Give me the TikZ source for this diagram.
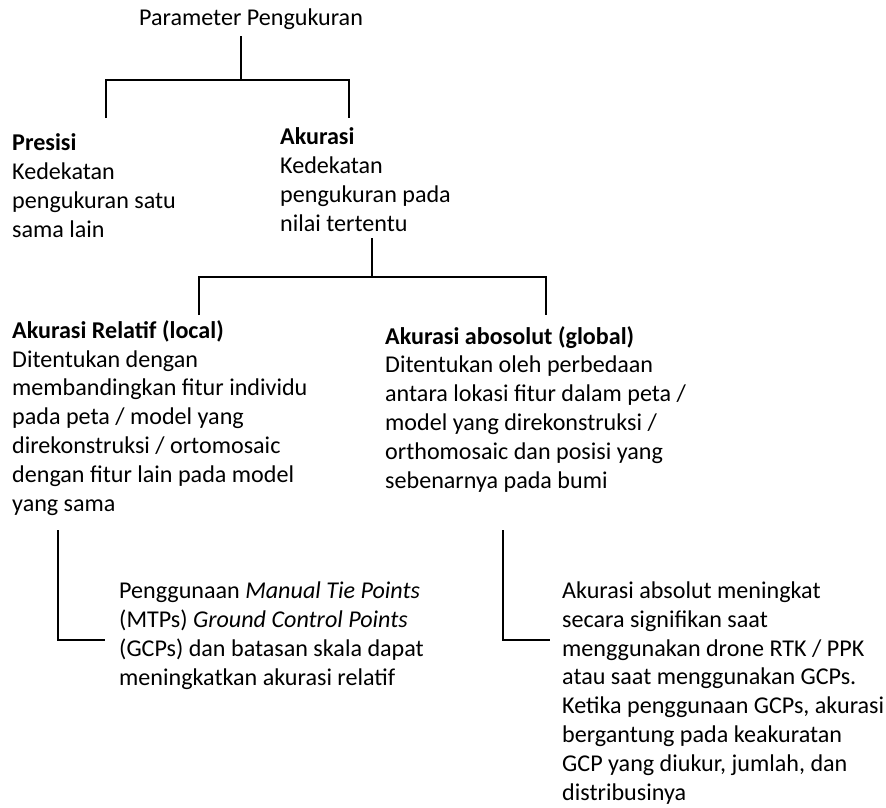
\documentclass[tikz,border=0pt]{standalone}
\usepackage{fontspec}
\setmainfont{Carlito}
\usetikzlibrary{positioning}

\begin{document}
\begin{tikzpicture}[
    x=1pt, y=-1pt,
    desc/.style={
        font=\fontsize{24.1}{28.8}\selectfont, align=left, inner sep=0pt, anchor=base west
    },
    branch/.style={
        draw=black, line width=2pt
    }
]
\useasboundingbox (0,0) rectangle (886,807);

% Level 0: root (nodes sit on the baseline of their last line)
\node[desc, anchor=base] (title) at (251,25) {Parameter Pengukuran};

% Level 1: Presisi / Akurasi
\node[desc] (presisi) at (12,237) {%
    \textbf{Presisi}\\
    Kedekatan\\
    pengukuran satu\\
    sama lain};

\node[desc] (akurasi) at (280,231) {%
    \textbf{Akurasi}\\
    Kedekatan\\
    pengukuran pada\\
    nilai tertentu};

% Level 2: relatif / absolut
\node[desc] (relatif) at (12,511) {%
    \textbf{Akurasi Relatif (local)}\\
    Ditentukan dengan\\
    membandingkan fitur individu\\
    pada peta / model yang\\
    direkonstruksi / ortomosaic\\
    dengan fitur lain pada model\\
    yang sama};

\node[desc] (absolut) at (385,488) {%
    \textbf{Akurasi abosolut (global)}\\
    Ditentukan oleh perbedaan\\
    antara lokasi fitur dalam peta /\\
    model yang direkonstruksi /\\
    orthomosaic dan posisi yang\\
    sebenarnya pada bumi};

% Level 3: notes
\node[desc] (mtp) at (119,685) {%
    Penggunaan \textit{Manual Tie Points}\\
    (MTPs) \textit{Ground Control Points}\\
    (GCPs) dan batasan skala dapat\\
    meningkatkan akurasi relatif};

\node[desc] (rtk) at (562,800) {%
    Akurasi absolut meningkat\\
    secara signifikan saat\\
    menggunakan drone RTK / PPK\\
    atau saat menggunakan GCPs.\\
    Ketika penggunaan GCPs, akurasi\\
    bergantung pada keakuratan\\
    GCP yang diukur, jumlah, dan\\
    distribusinya};

% Branch points
\coordinate (root) at (241,80);
\coordinate (presisi-in) at (106,118);
\coordinate (akurasi-in) at (349,118);
\coordinate (akurasi-out) at (372,238);
\coordinate (split) at (372,277);
\coordinate (relatif-in) at (199,315);
\coordinate (absolut-in) at (546,315);
\coordinate (relatif-out) at (58,530);
\coordinate (mtp-in) at (105,640);
\coordinate (absolut-out) at (503,530);
\coordinate (rtk-in) at (550,640);

% Tree lines
\draw[branch] (root |- title.south) ++(0,7) -- (root);
\draw[branch] (presisi-in) |- (root) -| (akurasi-in);
\draw[branch] (akurasi-out) -- (split);
\draw[branch] (relatif-in) |- (split) -| (absolut-in);
\draw[branch] (relatif-out) |- (mtp-in);
\draw[branch] (absolut-out) |- (rtk-in);

\end{tikzpicture}
\end{document}
